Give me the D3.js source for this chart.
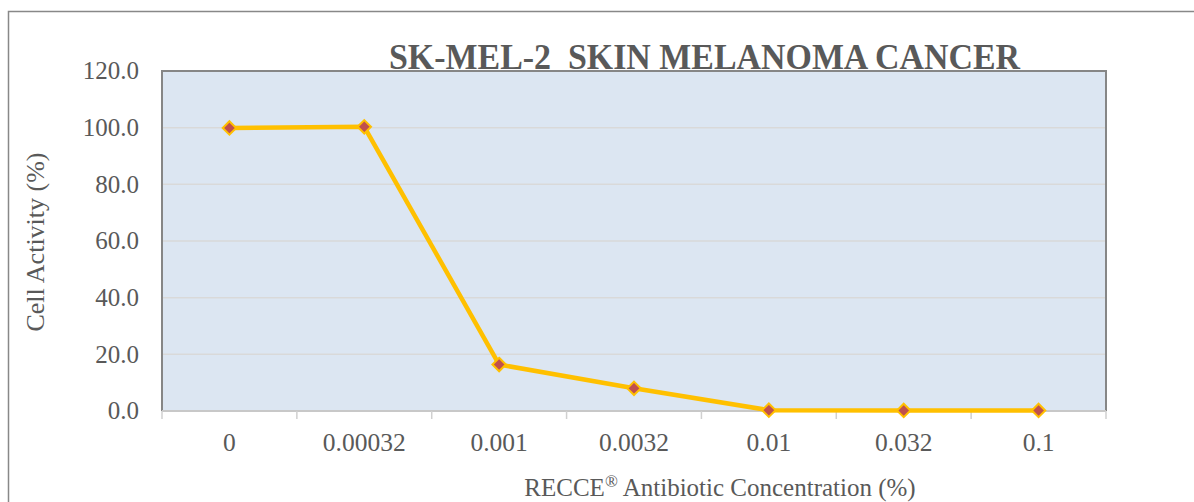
<html>
<head>
  <meta charset="UTF-8">
  <title>SK-MEL-2</title>
  <script src="https://d3js.org/d3.v7.min.js"></script>
  <style>
    body { margin: 0; background: #fff; }
    text { font-family: "Liberation Serif", serif; fill: #595959; white-space: pre; }
  </style>
</head>
<body>
  <svg id="chart" width="1194" height="502"></svg>
  <script>
    // values
    const concentrations = ["0", "0.00032", "0.001", "0.0032", "0.01", "0.032", "0.1"];
    const activity = [99.9, 100.3, 16.4, 8.0, 0.3, 0.2, 0.2];
    const yTicks = [0, 20, 40, 60, 80, 100, 120];

    const svg = d3.select("#chart");
    const plot = { left: 162, top: 71, right: 1106, bottom: 411 };

    // outer chart border
    svg.append("rect")
       .attr("x", 8.5).attr("y", 11.5)
       .attr("width", 1194).attr("height", 600)
       .attr("fill", "none").attr("stroke", "#888").attr("stroke-width", 1.5);

    const x = d3.scaleBand(concentrations, [plot.left, plot.right]);
    const y = d3.scaleLinear([0, 120], [plot.bottom, plot.top]);

    svg.append("rect")
       .attr("x", plot.left).attr("y", plot.top)
       .attr("width", plot.right - plot.left).attr("height", plot.bottom - plot.top)
       .attr("fill", "#dce6f2");

    // gridlines
    svg.append("g").selectAll("line").data(yTicks.slice(1, -1))
       .join("line")
       .attr("x1", plot.left).attr("x2", plot.right)
       .attr("y1", d => y(d)).attr("y2", d => y(d))
       .attr("stroke", "#d9d9d9").attr("stroke-width", 1.5);

    // plot border (left, top, right)
    svg.append("path")
       .attr("d", `M${plot.left},${plot.bottom}V${plot.top}H${plot.right}V${plot.bottom}`)
       .attr("fill", "none").attr("stroke", "#868686").attr("stroke-width", 2);

    // x axis
    const xAxis = svg.append("g").attr("transform", `translate(0,${plot.bottom})`);
    xAxis.append("line")
         .attr("x1", plot.left).attr("x2", plot.right)
         .attr("stroke", "#c8c8c8").attr("stroke-width", 2);
    const tickXs = concentrations.map(c => x(c)).concat([plot.right]);
    xAxis.selectAll("line.tick").data(tickXs)
         .join("line").attr("class", "tick")
         .attr("x1", d => d).attr("x2", d => d)
         .attr("y1", 0).attr("y2", 8)
         .attr("stroke", "#d0d0d0").attr("stroke-width", 1.5);
    xAxis.selectAll("text").data(concentrations)
         .join("text")
         .attr("x", d => x(d) + x.bandwidth() / 2)
         .attr("y", 40)
         .attr("text-anchor", "middle")
         .attr("font-size", 25.5)
         .text(d => d);

    // y labels
    svg.append("g").selectAll("text").data(yTicks)
       .join("text")
       .attr("x", 139).attr("y", d => y(d))
       .attr("dy", "0.33em")
       .attr("text-anchor", "end")
       .attr("font-size", 25)
       .text(d => d.toFixed(1));

    // line + markers
    const pts = concentrations.map((c, i) => [x(c) + x.bandwidth() / 2, y(activity[i])]);
    svg.append("path")
       .attr("d", d3.line()(pts))
       .attr("fill", "none").attr("stroke", "#ffc000")
       .attr("stroke-width", 4.5).attr("stroke-linejoin", "round");

    svg.append("g").selectAll("path").data(pts)
       .join("path")
       .attr("d", d3.symbol(d3.symbolDiamond2, 115)())
       .attr("transform", d => `translate(${d[0]},${d[1]})`)
       .attr("fill", "#c0504d").attr("stroke", "#ffc000").attr("stroke-width", 2);

    // titles
    svg.append("text")
       .attr("x", 389).attr("y", 69)
       .attr("font-size", 36).attr("font-weight", "bold")
       .attr("textLength", 631).attr("lengthAdjust", "spacingAndGlyphs")
       .text("SK-MEL-2  SKIN MELANOMA CANCER");

    const xTitle = svg.append("text")
       .attr("x", 720).attr("y", 496)
       .attr("text-anchor", "middle")
       .attr("font-size", 25);
    xTitle.append("tspan").text("RECCE");
    xTitle.append("tspan").attr("font-size", 17).attr("dy", -9).text("®");
    xTitle.append("tspan").attr("dy", 9).text(" Antibiotic Concentration (%)");

    svg.append("text")
       .attr("transform", `translate(44,242) rotate(-90)`)
       .attr("text-anchor", "middle")
       .attr("font-size", 26)
       .text("Cell Activity (%)");
  </script>
</body>
</html>
